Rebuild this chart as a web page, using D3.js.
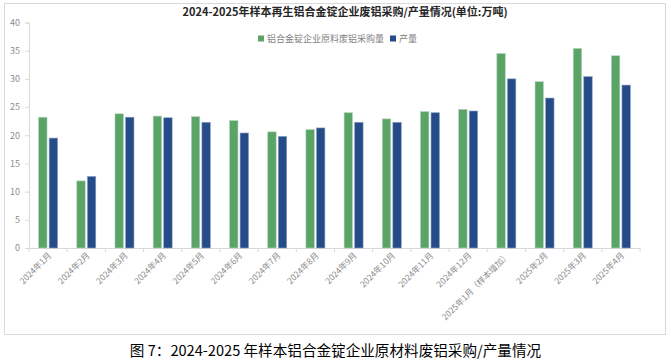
<!DOCTYPE html>
<html>
<head>
<meta charset="utf-8">
<script src="https://cdn.jsdelivr.net/npm/d3@7"></script>
<style>
  body { margin: 0; background: #fff; }
  svg text { font-family: "Noto Sans CJK SC", "Noto Sans", sans-serif; }
</style>
</head>
<body>
<svg id="chart" width="671" height="362"></svg>
<script>
// months on the x axis
var categories = ['2024年1月', '2024年2月', '2024年3月', '2024年4月', '2024年5月', '2024年6月',
  '2024年7月', '2024年8月', '2024年9月', '2024年10月', '2024年11月', '2024年12月',
  '2025年1月（样本增加）', '2025年2月', '2025年3月', '2025年4月'];
// 铝合金锭企业原料废铝采购量 (万吨)
var purchase = [23.2, 11.9, 23.8, 23.4, 23.3, 22.6, 20.6, 21.0, 24.0, 22.9, 24.2, 24.6, 34.5, 29.5, 35.4, 34.1];
// 产量 (万吨)
var output = [19.5, 12.7, 23.2, 23.1, 22.3, 20.4, 19.8, 21.3, 22.3, 22.3, 24.0, 24.3, 30.0, 26.6, 30.4, 28.9];
var seriesNames = ['铝合金锭企业原料废铝采购量', '产量'];
var yTicks = [0, 5, 10, 15, 20, 25, 30, 35, 40];

var colors = ['#5aa468', '#254c88'];
var svg = d3.select('#chart');

// outer frame
svg.append('rect')
    .attr('x', 4.5).attr('y', 3.5)
    .attr('width', 661).attr('height', 331)
    .attr('fill', '#fff')
    .attr('stroke', '#d9d9d9');

var x = d3.scaleBand().domain(categories).range([29, 640]);
var x1 = d3.scaleBand().domain([0, 1]).range([-9.5, 9.5]).paddingInner(0.2);
var y = d3.scaleLinear().domain([0, 40]).range([248, 22.5]);

// y axis
var yAxis = svg.append('g')
    .attr('transform', 'translate(29,0)')
    .call(d3.axisLeft(y).tickValues(yTicks).tickSize(4).tickPadding(5));
yAxis.select('.domain').attr('stroke', '#d9d9d9');
yAxis.selectAll('.tick line').attr('stroke', '#d9d9d9');
yAxis.selectAll('.tick text').attr('fill', '#8c8c8c').style('font-size', '9px');

// x axis
var xAxis = svg.append('g')
    .attr('transform', 'translate(0,248)')
    .call(d3.axisBottom(x).tickSize(0).tickFormat(''));
xAxis.select('.domain').attr('stroke', '#d9d9d9');
xAxis.selectAll('.bound')
    .data(d3.range(categories.length + 1))
    .enter().append('line')
    .attr('x1', function(i) { return 29 + i * x.step(); })
    .attr('x2', function(i) { return 29 + i * x.step(); })
    .attr('y1', 0).attr('y2', 4)
    .attr('stroke', '#d9d9d9');

svg.append('g').selectAll('text')
    .data(categories)
    .enter().append('text')
    .attr('transform', function(d) {
      return 'translate(' + (x(d) + x.bandwidth() / 2 + 4) + ',256) rotate(-45)';
    })
    .attr('text-anchor', 'end')
    .attr('fill', '#8c8c8c')
    .style('font-size', '8.5px')
    .text(function(d) { return d; });

// bars
var series = [purchase, output];
series.forEach(function(vals, k) {
  svg.append('g').selectAll('rect')
      .data(vals)
      .enter().append('rect')
      .attr('x', function(d, i) { return x(categories[i]) + x.bandwidth() / 2 + x1(k); })
      .attr('width', x1.bandwidth())
      .attr('y', function(d) { return y(d); })
      .attr('height', function(d) { return y(0) - y(d); })
      .attr('fill', colors[k])
      .attr('stroke', k === 0 ? '#b5d6bb' : '#8ba2c6')
      .attr('stroke-width', 0.6);
});

// title
svg.append('text')
    .attr('x', 345).attr('y', 16)
    .attr('text-anchor', 'middle')
    .style('font-size', '11px')
    .style('font-weight', 'bold')
    .attr('fill', '#262626')
    .text('2024-2025年样本再生铝合金锭企业废铝采购/产量情况(单位:万吨)');

// legend
var legend = svg.append('g').attr('transform', 'translate(258,39)');
var lx = 0;
seriesNames.forEach(function(name, k) {
  legend.append('rect')
      .attr('x', lx).attr('y', -3.5)
      .attr('width', 6).attr('height', 6)
      .attr('fill', colors[k]);
  var t = legend.append('text')
      .attr('x', lx + 9).attr('y', 3)
      .attr('fill', '#7f7f7f')
      .style('font-size', '9px')
      .text(name);
  lx += 9 + t.node().getComputedTextLength() + 6;
});

// caption under the chart
svg.append('text')
    .attr('x', 335.5).attr('y', 356)
    .attr('text-anchor', 'middle')
    .style('font-size', '14.6px')
    .attr('fill', '#000')
    .text('图 7：2024-2025 年样本铝合金锭企业原材料废铝采购/产量情况');
</script>
</body>
</html>
